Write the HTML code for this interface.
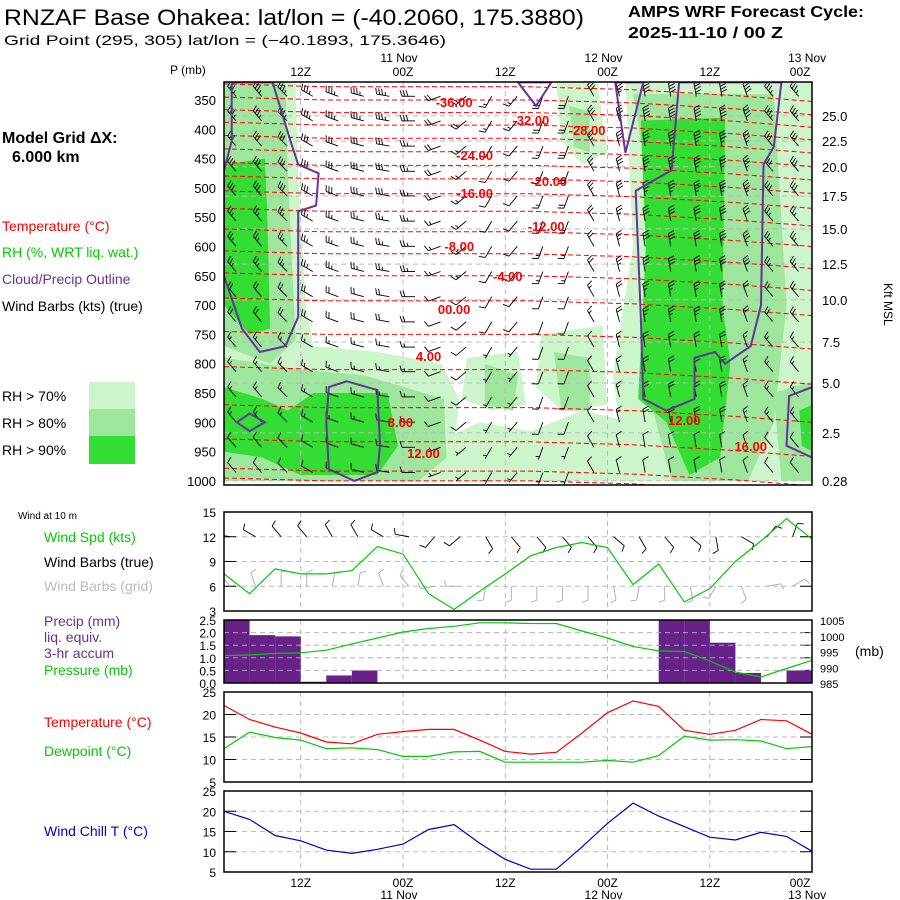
<!DOCTYPE html>
<html><head><meta charset="utf-8"><style>
html,body{margin:0;padding:0;background:#fff}
svg{display:block;font-family:"Liberation Sans",sans-serif}
</style></head><body>
<svg id="c" width="900" height="900" viewBox="0 0 900 900" xmlns="http://www.w3.org/2000/svg">
<text x="4" y="25" font-size="22" textLength="580" lengthAdjust="spacingAndGlyphs">RNZAF Base Ohakea:  lat/lon = (-40.2060, 175.3880)</text>
<text x="4" y="45" font-size="14" textLength="442" lengthAdjust="spacingAndGlyphs">Grid Point (295, 305) lat/lon = (−40.1893, 175.3646)</text>
<text x="628" y="17" font-size="16" font-weight="bold" textLength="236" lengthAdjust="spacingAndGlyphs">AMPS WRF Forecast Cycle:</text>
<text x="628" y="38" font-size="16" font-weight="bold" textLength="155" lengthAdjust="spacingAndGlyphs">2025-11-10 / 00  Z</text>
<text x="2" y="143" font-size="16" font-weight="bold">Model Grid ΔX:</text>
<text x="12" y="162" font-size="16" font-weight="bold">6.000 km</text>
<g font-size="14">
<text x="2" y="231" fill="#f00">Temperature (°C)</text>
<text x="2" y="257" fill="#0c0">RH (%, WRT liq. wat.)</text>
<text x="2" y="284" fill="#639">Cloud/Precip Outline</text>
<text x="2" y="311" fill="#000">Wind Barbs (kts) (true)</text>
<text x="2" y="401">RH &gt; 70%</text>
<text x="2" y="428">RH &gt; 80%</text>
<text x="2" y="455">RH &gt; 90%</text>
</g>
<rect x="89" y="382" width="46" height="27" fill="#ccf5cc"/>
<rect x="89" y="409" width="46" height="27" fill="#9ee59e"/>
<rect x="89" y="436" width="46" height="28" fill="#33dd33"/>
<g font-size="14">
<text x="18" y="519" font-size="10">Wind at 10 m</text>
<text x="44" y="542" fill="#0c0">Wind Spd (kts)</text>
<text x="44" y="567">Wind Barbs (true)</text>
<text x="44" y="591" fill="#bbb">Wind Barbs (grid)</text>
<text x="44" y="626" fill="#639">Precip (mm)</text>
<text x="44" y="642" fill="#639">liq. equiv.</text>
<text x="44" y="658" fill="#639">3-hr accum</text>
<text x="44" y="675" fill="#0c0">Pressure (mb)</text>
<text x="44" y="727" fill="#f00">Temperature (°C)</text>
<text x="44" y="756" fill="#0c0">Dewpoint (°C)</text>
<text x="44" y="836" fill="#00c">Wind Chill T (°C)</text>
<text x="855" y="656">(mb)</text>
<text x="170" y="74" font-size="12">P (mb)</text>
<text x="0" y="0" font-size="12" transform="translate(884,283) rotate(90)">Kft MSL</text>
</g>
<g id="main"></g><g id="low"></g>
</svg>
<script>
// ---- data ----
const timeLabels=["12Z","00Z","12Z","00Z","12Z","00Z"];
const timeLabelIdx=[3,7,11,15,19,23];
const dateLabels=["11 Nov","12 Nov","13 Nov"];
const dateLabelIdx=[7,15,23];
const pressureTicks=[350,400,450,500,550,600,650,700,750,800,850,900,950,1000];
const kftLabels=["25.0","22.5","20.0","17.5","15.0","12.5","10.0","7.5","5.0","2.5","0.28"];
const kftPressure=[377,420,464,514,570,630,691,763,833,918,1000];
const windSpd=[7.5,5.1,8.1,7.5,7.5,7.9,10.8,9.9,5.1,3.2,5.4,7.5,9.7,10.7,11.3,10.7,6.2,8.7,4.1,5.7,9,11.5,14.2,11.7];
const windDir10=[280,300,320,320,330,330,300,280,220,230,150,140,140,140,140,130,150,140,130,170,120,40,20,60];
const precip=[2.5,1.9,1.85,0.05,0.3,0.5,0,0,0,0,0,0,0,0,0,0,0,2.5,2.5,1.6,0.4,0,0.5];
const pressure=[993.7,993.9,994.4,994.6,995.4,997.4,999.3,1001.2,1002.3,1003,1004.1,1004.1,1003.9,1003.9,1001.5,999.3,996.6,995.2,995,992,988.5,986.9,989.6,992.2];
const temperature=[22,18.9,17.2,15.9,13.9,13.5,15.6,16.2,16.7,16.7,14.3,11.8,11.2,11.6,15.9,20.4,23,21.8,16.5,15.6,16.5,18.9,18.6,15.6];
const dewpoint=[12.4,16.1,14.9,14.3,12.4,12.6,12.2,10.7,10.7,11.7,11.8,9.4,9.4,9.4,9.4,9.8,9.4,10.9,15.2,14.3,14.4,14.1,12.4,12.9];
const windChill=[20,18,14,12.7,10.4,9.6,10.6,11.9,15.5,16.7,12.1,8.1,5.7,5.7,11.2,17,22,18.8,16.2,13.6,12.9,14.8,13.8,10.1];
const profP=[320,350,400,450,500,550,600,650,700,750,800,850,900,950,1000];
const profT=[-41,-37,-30,-23.5,-17,-12,-8,-4,-0.5,2,4.5,7,9,12,15];
const shiftT=[0,4,8,12,16,20,23];
const shiftP=[-5,0,0,0,5,15,25];
const isoLevels=[-40,-37,-34,-31,-28,-25,-22,-19,-16,-13,-10,-7,-4,-1,2,5,8,11,14,16];
const isoLabels=[["-36.00",9.0,102],["-32.00",12.0,120],["-28.00",14.2,130],["-24.00",9.8,155],["-20.00",12.7,181],["-16.00",9.8,193],["-12.00",12.6,226],["-8.00",9.2,246],["-4.00",11.1,276],["00.00",9.0,309],["4.00",8.0,356],["8.00",6.9,422],["12.00",7.8,453],["12.00",18.0,420],["16.00",20.6,446]];
// upper-air winds
const barbLevels=[330,372,415,458,500,543,586,629,672,715,758,800,843,886,929,972];
const levelSpd=[35,35,30,30,30,25,25,25,20,20,15,15,15,15,10,10];
const timeSpdFactor=[1,1,1,1,1,1,1,0.9,0.6,0.5,0.4,0.4,0.5,0.6,0.8,1,1.2,1.2,1.2,1.2,1.1,1,1,1];
const timeDir=[320,320,315,300,290,285,280,270,250,230,210,220,200,200,330,345,350,350,350,350,340,320,320,310];
// RH regions [timeIndex, pressure]
const rh70=[
 [[0,320],[2.8,320],[2.9,480],[3.2,700],[3.5,770],[6,780],[8.5,800],[9.2,860],[9,950],[8,1000],[0,1000]],
 [[9.5,790],[11.5,780],[11.8,870],[10.5,880],[9.3,860]],
 [[12.4,750],[14.8,735],[15,870],[13.2,880],[12.2,840]],
 [[8.5,930],[10,900],[12,915],[14,880],[16,900],[16.5,1000],[8,1000]],
 [[13,320],[14.6,320],[15,440],[14,460],[13.2,420]],
 [[15.3,320],[23,320],[23,1000],[15.8,1000],[15.2,820],[16,600],[15.7,300]]
];
const rh80=[
 [[0,320],[2.4,320],[2.5,480],[2.8,760],[1.8,800],[0,770]],
 [[0,790],[3,810],[5.5,820],[8.6,860],[8.7,960],[7.6,1000],[0,1000]],
 [[10.2,800],[11.5,820],[11.3,880],[10.2,870]],
 [[12.9,780],[14.3,790],[14.3,880],[13.2,880]],
 [[16,340],[21.5,340],[22,700],[21.5,900],[20.5,1000],[17.5,1000],[16.3,800],[16.6,500]],
 [[21.5,850],[23,830],[23,1000],[21.8,1000]],
 [[13.5,360],[14.3,370],[14.3,440],[13.7,430]]
];
const rh90=[
 [[0,460],[1.6,450],[1.7,560],[1.8,740],[1,750],[0,700]],
 [[0,840],[1.5,860],[2.5,880],[3.5,850],[6.4,850],[6.8,940],[6,990],[3,990],[1.5,960],[0,950]],
 [[16.3,385],[19.6,380],[19.5,700],[19.8,800],[19.4,960],[18.2,990],[17.3,900],[16.2,860],[16.5,600]],
 [[22.5,880],[23,870],[23,950],[22.6,940]]
];
const cloudOutlines=[
 [[0.3,320],[1.9,320],[2.6,420],[2.9,460],[3.7,475],[3.6,530],[2.9,540],[2.9,720],[2.4,770],[1.4,780],[0.7,740],[0,650],[0,470],[0.3,420]],
 [[4.1,840],[4.8,830],[6,845],[6.1,940],[6,985],[5.1,1000],[4.1,980],[4,900]],
 [[0.5,900],[1,885],[1.6,900],[1,915]],
 [[11.5,320],[12.2,360],[12.8,320]],
 [[15.3,320],[15.7,440],[16.4,320]],
 [[17.8,320],[17.5,470],[16.1,505],[16.3,720],[16.4,860],[17.3,880],[18.4,860],[18.4,790],[19.2,780],[19.6,800],[20.6,770],[21,700],[21.1,460],[21.5,430],[21.8,320]],
 [[23,840],[22.1,855],[22,940],[23,960]]
];
// ---- axes ----
const X0=224, DX=25.57;
const x=t=>X0+t*DX;
const yP=p=>100+(p-350)*0.586;
const yW=v=>512+(15-v)*99/12;
const yPr=v=>620+(2.5-v)*63/2.5;
const yPs=p=>620+(1005-p)*63/20;
const yT=v=>692+(25-v)*90/20;
const yC=v=>791+(25-v)*81/20;
const NS="http://www.w3.org/2000/svg";
const main=document.getElementById('main'), low=document.getElementById('low');
function el(tag,attrs,parent){const e=document.createElementNS(NS,tag);for(const k in attrs)e.setAttribute(k,attrs[k]);parent.appendChild(e);return e;}
function interp(xs,ys,v){if(v<=xs[0])return ys[0];for(let i=1;i<xs.length;i++){if(v<=xs[i]){const f=(v-xs[i-1])/(xs[i]-xs[i-1]);return ys[i-1]+f*(ys[i]-ys[i-1]);}}return ys[ys.length-1];}
const clipP=p=>Math.max(320,Math.min(1006,p));
function polyPts(poly){return poly.map(q=>x(q[0]).toFixed(1)+','+yP(clipP(q[1])).toFixed(1)).join(' ');}
const defs=el('defs',{},main);
const cp=el('clipPath',{id:'mclip'},defs);
el('rect',{x:224,y:82,width:588,height:403},cp);
const mg=el('g',{'clip-path':'url(#mclip)'},main);


[[rh70,'#ccf5cc','rh70-region'],[rh80,'#9ee59e','rh80-region'],[rh90,'#33dd33','rh90-region']].forEach(([set,col,nm])=>{
 set.forEach(poly=>{const e=el('polygon',{points:polyPts(poly),fill:col},mg);
 
 });
});
kftPressure.forEach(p=>{const e=el('line',{x1:224,x2:812,y1:yP(p),y2:yP(p),stroke:'#bbb','stroke-dasharray':'5,4','stroke-width':1},mg);
 
 });
timeLabelIdx.forEach(t=>{const e=el('line',{x1:x(t),x2:x(t),y1:82,y2:485,stroke:'#bbb','stroke-dasharray':'5,4'},mg);
 
 });
isoLevels.forEach(T=>{
 const pts=[];
 for(let t=0;t<=23;t+=0.5){const p=interp(profT,profP,T)+interp(shiftT,shiftP,t);pts.push(x(t).toFixed(1)+','+yP(p).toFixed(1));}
 const e=el('polyline',{points:pts.join(' '),fill:'none',stroke:'#f00','stroke-dasharray':'5,3','stroke-width':1},mg);
 
 
});
function barb(parent,cx,cy,spd,dir,col,len){
 const g=el('g',{stroke:col,'stroke-width':0.9,fill:'none'},parent);
 const r=dir*Math.PI/180, ux=Math.sin(r), uy=-Math.cos(r);
 const ex=cx+ux*len, ey=cy+uy*len;
 el('line',{x1:cx,y1:cy,x2:ex,y2:ey},g);
 let s=Math.round(spd/5)*5, pos=0;
 const px=-uy, py=ux;
 while(s>=50){const bx=ex-ux*pos,by=ey-uy*pos;el('polyline',{points:`${bx},${by} ${bx+px*7},${by+py*7} ${bx-ux*4},${by-uy*4}`},g);pos+=5;s-=50;}
 while(s>=10){const bx=ex-ux*pos,by=ey-uy*pos;el('line',{x1:bx,y1:by,x2:bx+px*6+ux*2,y2:by+py*6+uy*2},g);pos+=3;s-=10;}
 if(s>=5){if(pos===0)pos=3;const bx=ex-ux*pos,by=ey-uy*pos;el('line',{x1:bx,y1:by,x2:bx+px*3.5+ux*1,y2:by+py*3.5+uy*1},g);}
 return g;
}
const bg=el('g',{},mg);


for(let t=0;t<24;t++){barbLevels.forEach((p,k)=>{
 const b=barb(bg,x(t)+12,yP(p)+8,levelSpd[k]*timeSpdFactor[t],timeDir[t],'#000',13);
 
 
});}
cloudOutlines.forEach(poly=>{const e=el('polygon',{points:polyPts(poly),fill:'none',stroke:'#639','stroke-width':2},mg);
 
 });
isoLabels.forEach(([s,t,yy])=>{const e=el('text',{x:x(t),y:yy+5,fill:'#f00','font-size':13,'font-weight':'bold','text-anchor':'middle'},mg);e.textContent=s;
 
 });
const frame=el('rect',{x:224,y:82,width:588,height:403,fill:'none',stroke:'#000','stroke-width':1.5},main);


pressureTicks.forEach(p=>{const e=el('text',{x:216,y:yP(p)+5,'font-size':13,'text-anchor':'end'},main);e.textContent=p;
 
 });
kftLabels.forEach((s,i)=>{const e=el('text',{x:822,y:yP(kftPressure[i])+5,'font-size':13},main);e.textContent=s;
 
 });
timeLabels.forEach((s,i)=>{const e=el('text',{x:x(timeLabelIdx[i])+(i===5?-12:0),y:76,'font-size':12,'text-anchor':'middle'},main);e.textContent=s;
 
 
 const b=el('text',{x:x(timeLabelIdx[i])+(i===5?-12:0),y:887,'font-size':12,'text-anchor':'middle'},low);b.textContent=s;
 
 });
dateLabels.forEach((s,i)=>{const xx=x(dateLabelIdx[i])-(i===2?5:4);
 const e=el('text',{x:xx,y:62,'font-size':12,'text-anchor':'middle'},main);e.textContent=s;
 
 
 const b=el('text',{x:xx,y:899,'font-size':12,'text-anchor':'middle'},low);b.textContent=s;
 
 });
function panel(name,y0,y1,ticks,yf,labels){
 const g=el('g',{},low);
 
 
 ticks.forEach(v=>{const yy=yf(v);
  el('line',{x1:224,x2:812,y1:yy,y2:yy,stroke:'#bbb','stroke-dasharray':'5,4'},g);
  el('line',{x1:224,x2:236,y1:yy,y2:yy,stroke:'#000'},g);
  el('line',{x1:800,x2:812,y1:yy,y2:yy,stroke:'#000'},g);});
 timeLabelIdx.slice(0,5).forEach(t=>el('line',{x1:x(t),x2:x(t),y1:y0,y2:y1,stroke:'#bbb','stroke-dasharray':'5,4'},g));
 labels.forEach(([s,v])=>{const e=el('text',{x:216,y:yf(v)+5,'font-size':12,'text-anchor':'end'},g);e.textContent=s;});
 return g;
}
function line(g,arr,yf,col,nm){const e=el('polyline',{points:arr.map((v,i)=>x(i).toFixed(1)+','+yf(v).toFixed(1)).join(' '),fill:'none',stroke:col,'stroke-width':1.2},g);
 
 }
const gw=panel('wind-panel',512,611,[12,9,6],yW,[["15",15],["12",12],["9",9],["6",6],["3",3]]);
const wclip=el('clipPath',{id:'wclip'},defs);
el('rect',{x:224,y:512,width:588,height:99},wclip);
const gwb=el('g',{'clip-path':'url(#wclip)'},gw);
windDir10.forEach((d,i)=>{const b=barb(gwb,x(i)+6,yW(12),10,d,'#000',14);
 
 
 const c=barb(gwb,x(i)+6,yW(6),10,(d+40)%360,'#aaa',14);
 
 });
line(gw,windSpd,yW,'#0c0','wind-speed-line');
const gp=panel('precip-panel',620,683,[2.0,1.5,1.0,0.5],yPr,[["2.5",2.5],["2.0",2.0],["1.5",1.5],["1.0",1.0],["0.5",0.5],["0.0",0]]);
precip.forEach((v,i)=>{if(v<=0)return;const e=el('rect',{x:x(i),y:yPr(v),width:DX,height:683-yPr(v),fill:'#662288'},gp);
 
 });
[2.0,1.5,1.0,0.5].forEach(v=>el('line',{x1:224,x2:812,y1:yPr(v),y2:yPr(v),stroke:'#bbb','stroke-dasharray':'5,4','stroke-opacity':0.8},gp));
line(gp,pressure,yPs,'#0c0','pressure-line');
[1005,1000,995,990,985].forEach(v=>{const e=el('text',{x:820,y:yPs(v)+5,'font-size':11},gp);e.textContent=v;
 
 });
const gt=panel('temperature-panel',692,782,[20,15,10],yT,[["25",25],["20",20],["15",15],["10",10],["5",5]]);
line(gt,temperature,yT,'#f00','temperature-line');
line(gt,dewpoint,yT,'#0c0','dewpoint-line');
const gc=panel('wind-chill-panel',791,872,[20,15,10],yC,[["25",25],["20",20],["15",15],["10",10],["5",5]]);
line(gc,windChill,yC,'#00c','wind-chill-line');
[[512,611],[620,683],[692,782],[791,872]].forEach(([a,b])=>{const e=el('rect',{x:224,y:a,width:588,height:b-a,fill:'none',stroke:'#000','stroke-width':1.5},low);
 
 });
</script>
</body></html>
